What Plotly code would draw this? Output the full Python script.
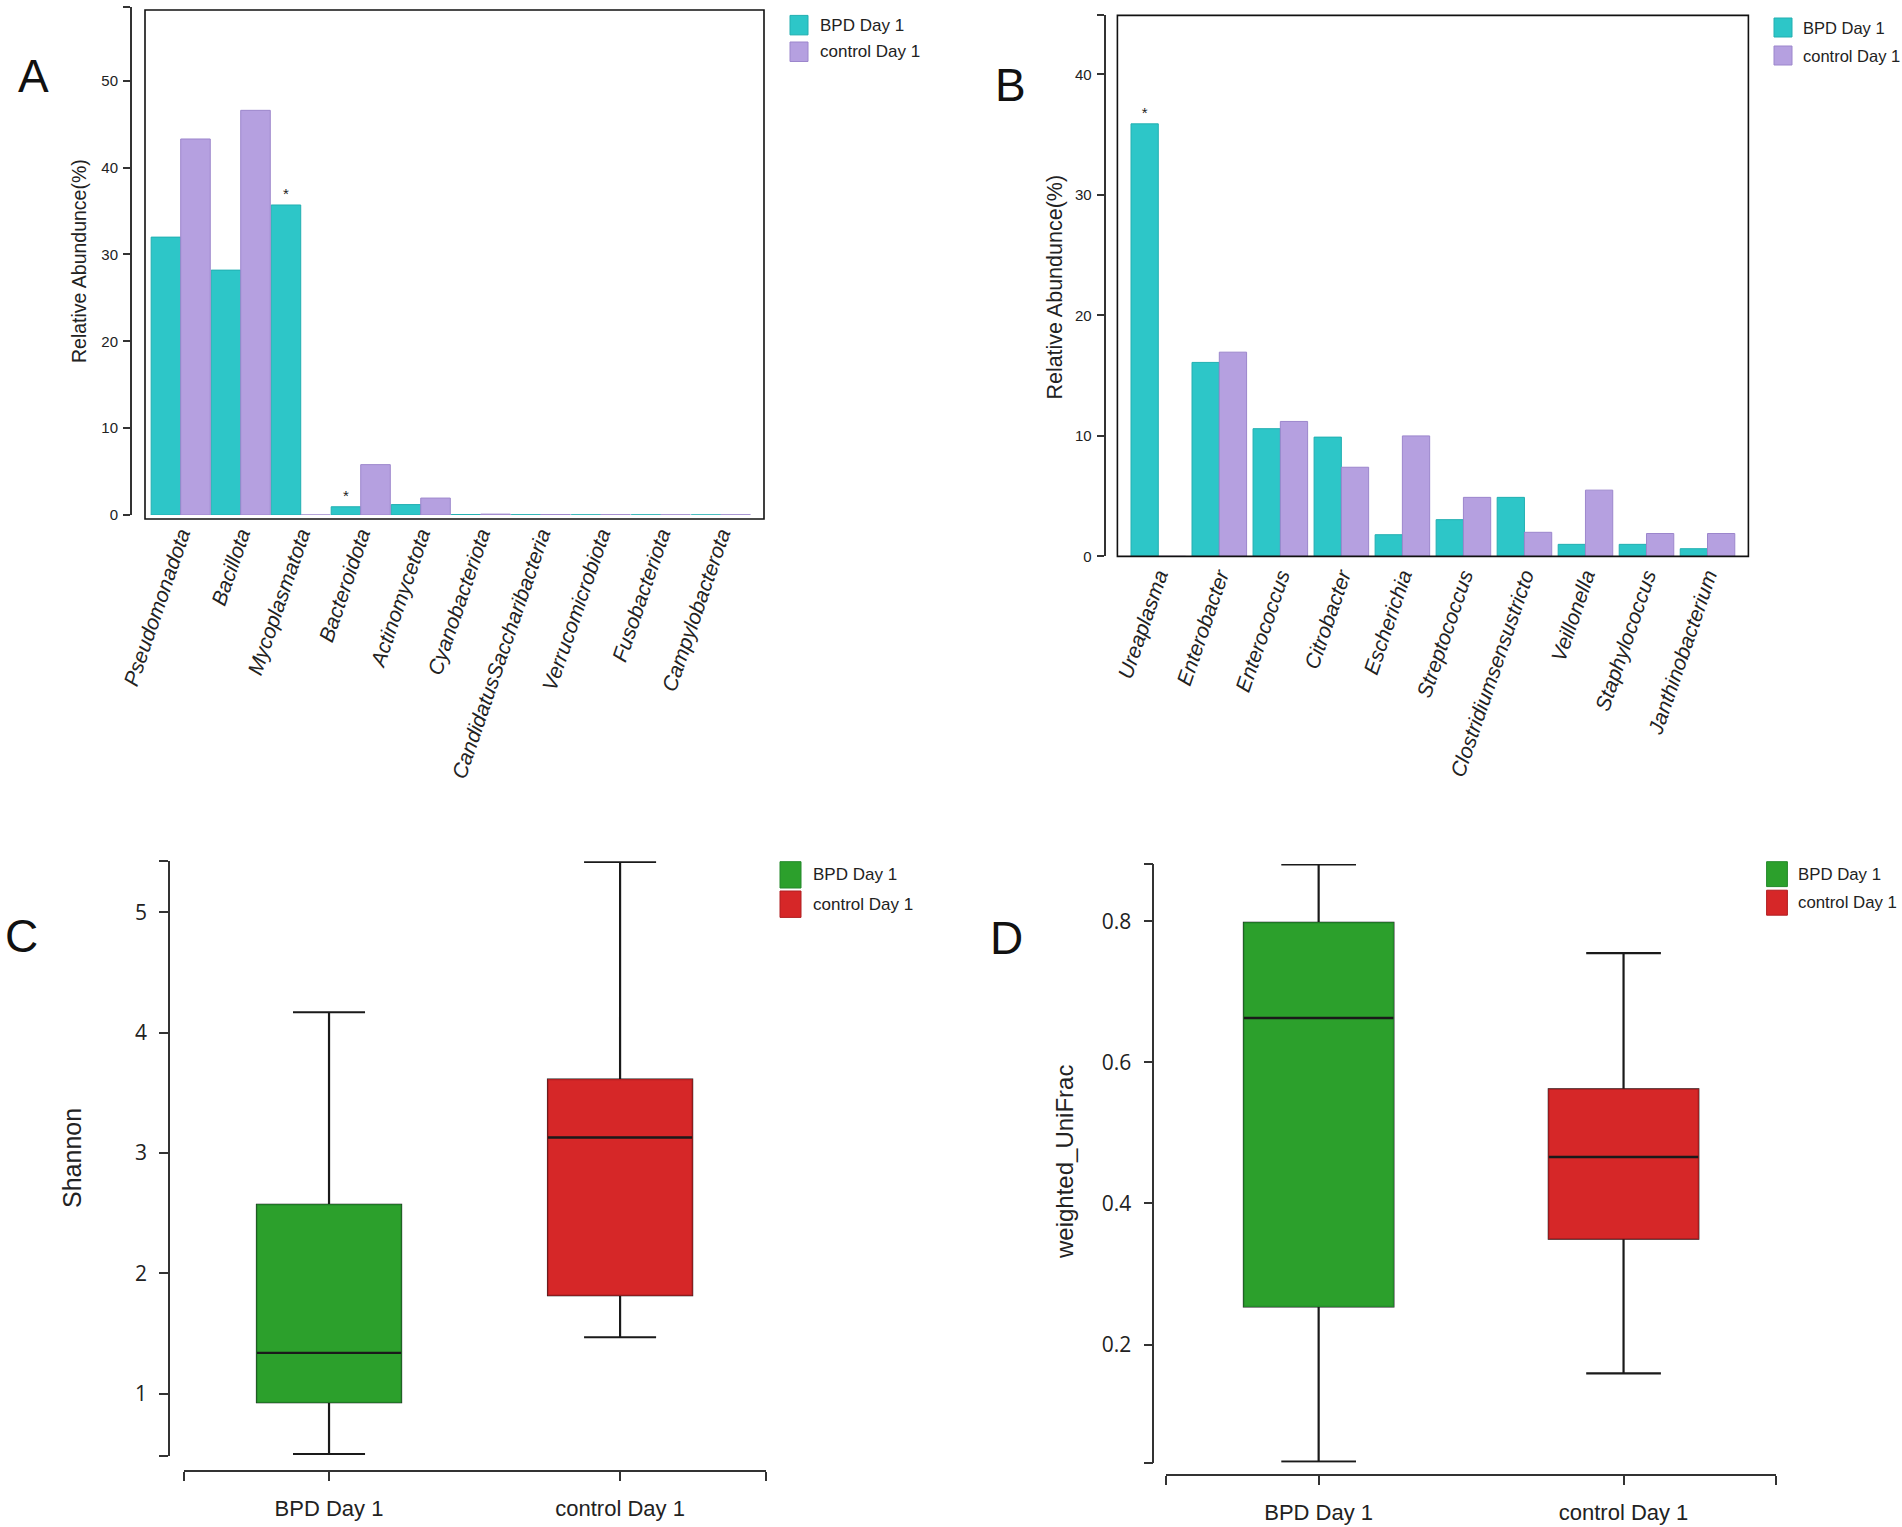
import plotly.graph_objects as go

W, H = 1902, 1527

# Panel A: phylum level relative abundance (%)
phyla = ["Pseudomonadota", "Bacillota", "Mycoplasmatota", "Bacteroidota", "Actinomycetota",
         "Cyanobacteriota", "CandidatusSaccharibacteria", "Verrucomicrobiota",
         "Fusobacteriota", "Campylobacterota"]
bpd_phyla = [32.0, 28.2, 35.7, 0.95, 1.2, 0.05, 0.03, 0.02, 0.02, 0.01]
ctrl_phyla = [43.3, 46.6, 0.0, 5.8, 1.95, 0.1, 0.05, 0.03, 0.02, 0.02]
sig_phyla = ["", "", "*", "*", "", "", "", "", "", ""]

# Panel B: genus level relative abundance (%)
genera = ["Ureaplasma", "Enterobacter", "Enterococcus", "Citrobacter", "Escherichia",
          "Streptococcus", "Clostridiumsensustricto", "Veillonella", "Staphylococcus",
          "Janthinobacterium"]
bpd_genera = [35.9, 16.1, 10.6, 9.9, 1.8, 3.05, 4.9, 1.0, 1.0, 0.64]
ctrl_genera = [0.0, 16.95, 11.2, 7.4, 10.0, 4.9, 2.0, 5.5, 1.9, 1.9]
sig_genera = ["*", "", "", "", "", "", "", "", "", ""]

# Panels C and D: box statistics per group
groups = ["BPD Day 1", "control Day 1"]
shannon_low = [0.50, 1.47]
shannon_q1 = [0.93, 1.82]
shannon_med = [1.34, 3.13]
shannon_q3 = [2.57, 3.61]
shannon_high = [4.17, 5.42]

unifrac_low = [0.034, 0.159]
unifrac_q1 = [0.254, 0.350]
unifrac_med = [0.663, 0.466]
unifrac_q3 = [0.798, 0.562]
unifrac_high = [0.881, 0.755]

TEAL, TEAL_LINE = "#2DC6C8", "#22AFB1"
LAV, LAV_LINE = "#B5A0E0", "#9C86CC"
BOX_FILL = ["#2CA02C", "#D62728"]
BOX_EDGE = ["#23882A", "#B01E20"]
AX = "#333333"
SANS = "Liberation Sans, Arial, sans-serif"
NARROW = "Liberation Sans Narrow, Arial Narrow, Liberation Sans, sans-serif"


def px(x):
    return x / W


def py(y):
    return 1 - y / H


fig = go.Figure()

# ---- bar panels ----
for cats, bpd, ctrl, sig, xa, ya, bw in [
    (phyla, bpd_phyla, ctrl_phyla, sig_phyla, "x", "y", 0.4925),
    (genera, bpd_genera, ctrl_genera, sig_genera, "x2", "y2", 0.447),
]:
    fig.add_trace(go.Bar(
        x=cats, y=bpd, width=bw, offset=-bw, name="BPD Day 1",
        marker=dict(color=TEAL, line=dict(color=TEAL_LINE, width=1)),
        text=sig, textposition="outside", textfont=dict(size=15, color="#222", family=SANS),
        cliponaxis=False, xaxis=xa, yaxis=ya, showlegend=False,
    ))
    fig.add_trace(go.Bar(
        x=cats, y=ctrl, width=bw, offset=0, name="control Day 1",
        marker=dict(color=LAV, line=dict(color=LAV_LINE, width=1)),
        xaxis=xa, yaxis=ya, showlegend=False,
    ))

# ---- box panels ----
for stats, xa, ya, bw in [
    ((shannon_low, shannon_q1, shannon_med, shannon_q3, shannon_high), "x3", "y3", 0.495),
    ((unifrac_low, unifrac_q1, unifrac_med, unifrac_q3, unifrac_high), "x4", "y4", 0.49),
]:
    lo, q1, med, q3, hi = stats
    for i, g in enumerate(groups):
        common = dict(x=[i], width=bw, whiskerwidth=0.5, xaxis=xa, yaxis=ya,
                      showlegend=False, hoverinfo="skip", name=g)
        # whiskers
        fig.add_trace(go.Box(q1=[q1[i]], median=[med[i]], q3=[q3[i]],
                             lowerfence=[lo[i]], upperfence=[hi[i]],
                             fillcolor=BOX_FILL[i], line=dict(color="#1a1a1a", width=2.2),
                             **common))
        # body
        fig.add_trace(go.Box(q1=[q1[i]], median=[med[i]], q3=[q3[i]],
                             lowerfence=[q1[i]], upperfence=[q3[i]],
                             fillcolor=BOX_FILL[i], line=dict(color=BOX_EDGE[i], width=1.2),
                             **common))
        # median
        fig.add_trace(go.Box(q1=[med[i]], median=[med[i]], q3=[med[i]],
                             lowerfence=[med[i]], upperfence=[med[i]],
                             fillcolor="rgba(0,0,0,0)", line=dict(color="#1a1a1a", width=2.4),
                             **common))

bar_x = dict(type="category", showline=False, ticks="", showgrid=False, zeroline=False,
             automargin=False, tickangle=-71, ticklabelstandoff=2,
             tickfont=dict(family=SANS, size=21, color="#222", style="italic"))
bar_y = dict(showline=True, linecolor=AX, linewidth=2, ticks="outside", ticklen=7,
             tickcolor=AX, tickwidth=1.5, showgrid=False, zeroline=False, anchor="free",
             automargin=False, ticklabelstandoff=2,
             tickfont=dict(family=NARROW, size=15, color="#222"))
box_x = dict(showline=True, linecolor=AX, linewidth=1.8, ticks="outside", ticklen=9,
             tickcolor=AX, tickwidth=1.8, showgrid=False, zeroline=False, anchor="free",
             automargin=False, range=[-0.5, 1.5], tickvals=[-0.5, 0, 1, 1.5],
             ticktext=[""] + groups + [""], ticklabelstandoff=9,
             tickfont=dict(family=SANS, size=22, color="#222"))
box_y = dict(showline=True, linecolor=AX, linewidth=1.8, ticks="outside", ticklen=9,
             tickcolor=AX, tickwidth=1.8, showgrid=False, zeroline=False, anchor="free",
             automargin=False, ticklabelstandoff=8,
             tickfont=dict(family="Open Sans, sans-serif", size=21, color="#222"))

fig.update_layout(
    template="none",
    width=W, height=H, margin=dict(l=0, r=0, t=0, b=0, autoexpand=False),
    paper_bgcolor="white", plot_bgcolor="white", barmode="group", boxmode="overlay",
    xaxis=dict(bar_x, domain=[px(145), px(764)], range=[-0.595, 9.72], anchor="y"),
    yaxis=dict(bar_y, domain=[py(515), py(7)], range=[0, 58.5], position=px(131),
               tickvals=[0, 10, 20, 30, 40, 50, 58.5], ticktext=["0", "10", "20", "30", "40", "50", ""]),
    xaxis2=dict(bar_x, domain=[px(1117.4), px(1748.4)], range=[-0.67, 9.67], anchor="y2"),
    yaxis2=dict(bar_y, domain=[py(556.4), py(15.4)], range=[0, 44.9], position=px(1104.6),
                tickvals=[0, 10, 20, 30, 40, 44.9], ticktext=["0", "10", "20", "30", "40", ""]),
    xaxis3=dict(box_x, domain=[px(183.5), px(765.6)], position=py(1471)),
    yaxis3=dict(box_y, domain=[py(1455.8), py(861.2)], range=[0.485, 5.425], position=px(169),
                tickvals=[0.485, 1, 2, 3, 4, 5, 5.425], ticktext=["", "1", "2", "3", "4", "5", ""]),
    xaxis4=dict(box_x, domain=[px(1166.2), px(1776)], position=py(1474.9)),
    yaxis4=dict(box_y, domain=[py(1462.6), py(864)], range=[0.0325, 0.8815], position=px(1153.4),
                tickvals=[0.0325, 0.2, 0.4, 0.6, 0.8, 0.8815], ticktext=["", "0.2", "0.4", "0.6", "0.8", ""]),
    showlegend=False,
)

# frames around bar panels
for x0, y0, x1, y1 in [(145, 10, 764, 519), (1117.4, 15.4, 1748.4, 556.4)]:
    fig.add_shape(type="rect", xref="paper", yref="paper", x0=px(x0), x1=px(x1),
                  y0=py(y1), y1=py(y0), line=dict(color="#111", width=1.6), layer="above")

# panel letters
for letter, x, y in [("A", 33.5, 76), ("B", 1010, 85), ("C", 21, 936), ("D", 1006, 938)]:
    fig.add_annotation(text=letter, x=px(x), y=py(y), xref="paper", yref="paper",
                       xanchor="center", yanchor="middle", showarrow=False,
                       font=dict(family=SANS, size=46, color="#111"))

# y axis titles
for text, x, y, size in [("Relative Abundunce(%)", 79, 261, 19.5),
                         ("Relative Abundunce(%)", 1054.6, 287, 21.5),
                         ("Shannon", 72, 1158, 25),
                         ("weighted_UniFrac", 1064, 1162, 24)]:
    fig.add_annotation(text=text, x=px(x), y=py(y), xref="paper", yref="paper",
                       xanchor="center", yanchor="middle", showarrow=False, textangle=-90,
                       font=dict(family=SANS, size=size, color="#222"))

# manual legends
legends = [
    (790, 808, [(15.4, 34.9), (42, 61.5)], [TEAL, LAV], [TEAL_LINE, LAV_LINE], 818, 17),
    (1774, 1792, [(18, 37), (46, 65)], [TEAL, LAV], [TEAL_LINE, LAV_LINE], 1800.5, 16.5),
    (780, 801, [(861.7, 888), (891, 917.4)], BOX_FILL, BOX_EDGE, 811, 17),
    (1766.6, 1787.4, [(861.7, 886.6), (890.2, 915.2)], BOX_FILL, BOX_EDGE, 1796, 16.8),
]
for x0, x1, rows, fills, edges, tx, fs in legends:
    for (y0, y1), fc, ec, label in zip(rows, fills, edges, groups):
        fig.add_shape(type="rect", xref="paper", yref="paper", x0=px(x0), x1=px(x1),
                      y0=py(y1), y1=py(y0), fillcolor=fc, line=dict(color=ec, width=1))
        fig.add_annotation(text=label, x=px(tx), y=py((y0 + y1) / 2), xref="paper", yref="paper",
                           xanchor="left", yanchor="middle", showarrow=False,
                           font=dict(family=SANS, size=fs, color="#222"))

fig.write_html("out.html", config={"displayModeBar": False},
               post_script="document.body.style.margin='0';")
